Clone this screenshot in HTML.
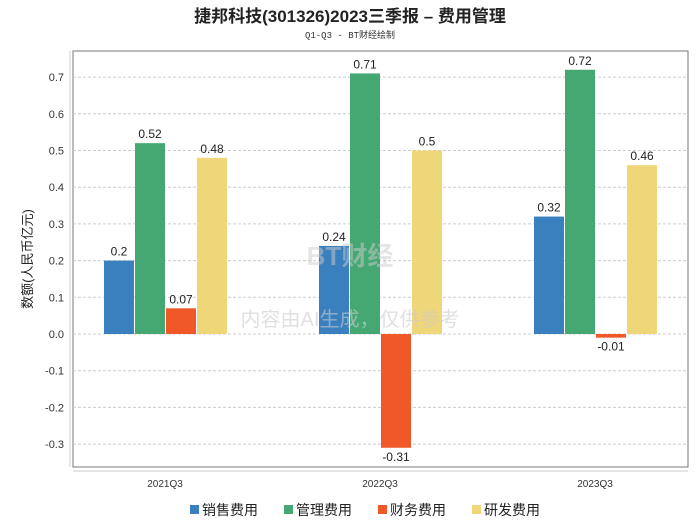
<!DOCTYPE html>
<html><head><meta charset="utf-8"><style>
body{margin:0;background:#fff;font-family:"Liberation Sans","Noto Sans CJK SC",sans-serif}
</style></head><body>
<svg id="c" width="700" height="524" xmlns="http://www.w3.org/2000/svg">
<text x="350" y="22" text-anchor="middle" font-size="17" font-weight="bold" fill="#222">捷邦科技(301326)2023三季报 – 费用管理</text>
<text x="350" y="38" text-anchor="middle" font-size="9" fill="#333" font-family="Liberation Mono, monospace">Q1-Q3 - BT财经绘制</text>
<rect x="73" y="51" width="615" height="416" fill="none" stroke="#777"/>
<line x1="70" y1="51" x2="70" y2="467" stroke="#ccc"/>
<line x1="73" y1="471" x2="688" y2="471" stroke="#ccc"/>
<text transform="translate(32,259) rotate(-90)" text-anchor="middle" font-size="13" fill="#222">数额(人民币亿元)</text>
<g id="g"></g>
<text x="350" y="265" text-anchor="middle" font-size="26" fill="#ccc" opacity="0.5" font-weight="bold">BT财经</text>
<text x="350" y="326" text-anchor="middle" font-size="20" fill="#ccc" opacity="0.6">内容由AI生成，仅供参考</text>
</svg>
<script>
const categories=["2021Q3","2022Q3","2023Q3"];
const seriesNames=["销售费用","管理费用","财务费用","研发费用"];
const colors=["#3a80bf","#45a872","#f0582a","#efd678"];
const sales=[0.2,0.24,0.32];
const admin=[0.52,0.71,0.72];
const finance=[0.07,-0.31,-0.01];
const rnd=[0.48,0.5,0.46];
const yTicks=[0.7,0.6,0.5,0.4,0.3,0.2,0.1,0.0,-0.1,-0.2,-0.3];
const yTickLabels=["0.7","0.6","0.5","0.4","0.3","0.2","0.1","0.0","-0.1","-0.2","-0.3"];
const NS="http://www.w3.org/2000/svg";
const g=document.getElementById('g');
const y=v=>334-v*367;
const xc=i=>165+215*i;
function mk(t,a){const e=document.createElementNS(NS,t);for(const k in a)e.setAttribute(k,a[k]);g.appendChild(e);return e;}
yTicks.forEach((v,i)=>{
 const l=mk('line',{x1:73,x2:688,y1:y(v),y2:y(v),stroke:'#ccc','stroke-dasharray':'3,2'});
 
 
 const t=mk('text',{x:64,y:y(v)+4,'text-anchor':'end','font-size':11,fill:'#333'});
 t.textContent=yTickLabels[i];
 
 
});
const all=[sales,admin,finance,rnd];
categories.forEach((c,i)=>{
 const t=mk('text',{x:xc(i),y:487,'text-anchor':'middle','font-size':10,fill:'#333'});
 t.textContent=c;
 
 
 all.forEach((s,j)=>{
  const v=s[i];const x=xc(i)-61+31*j;
  const r=mk('rect',{x:x,y:Math.min(y(v),y(0)),width:30,height:Math.abs(y(v)-y(0)),fill:colors[j]});
  
  
  const lt=mk('text',{x:x+15,y:v>=0?y(v)-5:y(v)+13,'text-anchor':'middle','font-size':12,fill:'#222'});
  lt.textContent=String(v);
  
  
 });
});
const lx=[190,284,378,472];
seriesNames.forEach((n,j)=>{
 const r=mk('rect',{x:lx[j],y:505,width:9,height:9,fill:colors[j]});
 
 
 const t=mk('text',{x:lx[j]+12,y:515,'font-size':14,fill:'#222'});
 t.textContent=n;
 
 
});
</script>
</body></html>
